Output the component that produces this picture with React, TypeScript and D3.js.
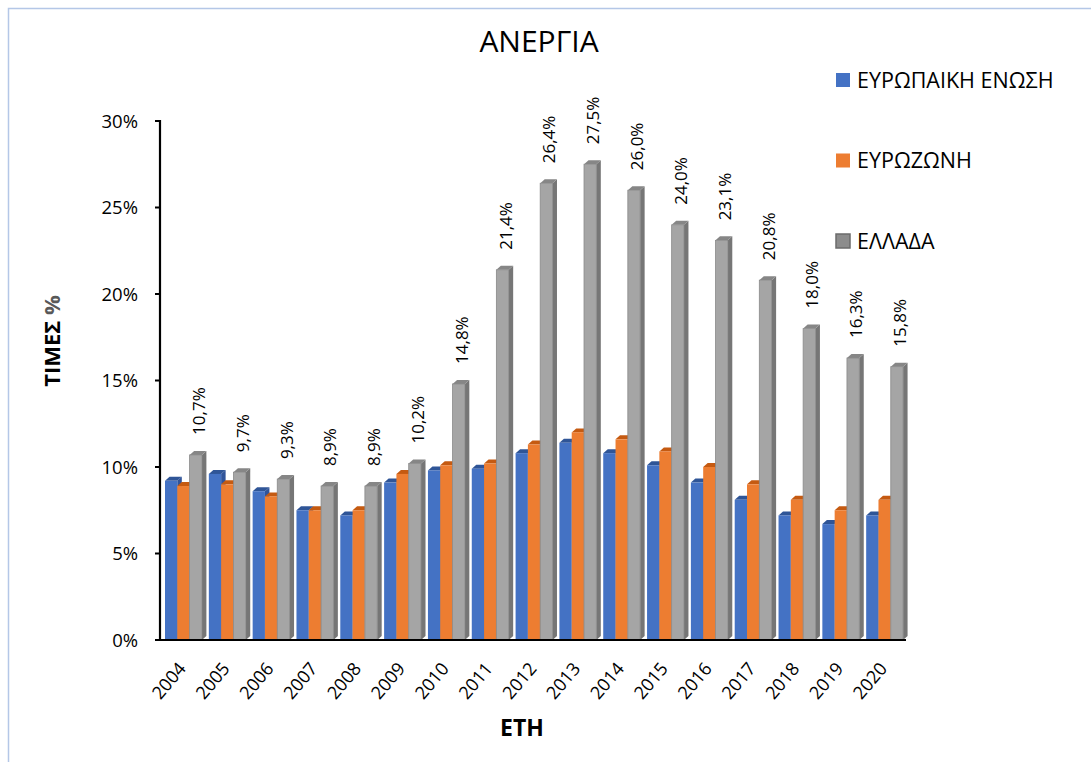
import React from 'react';
import * as d3 from 'd3';

const years = ['2004','2005','2006','2007','2008','2009','2010','2011','2012','2013','2014','2015','2016','2017','2018','2019','2020'];
const euValues = [9.2, 9.6, 8.6, 7.5, 7.2, 9.1, 9.8, 9.9, 10.8, 11.4, 10.8, 10.1, 9.1, 8.1, 7.2, 6.7, 7.2];
const euroValues = [8.9, 9.0, 8.3, 7.5, 7.5, 9.6, 10.1, 10.2, 11.3, 12.0, 11.6, 10.9, 10.0, 9.0, 8.1, 7.5, 8.1];
const greeceValues = [10.7, 9.7, 9.3, 8.9, 8.9, 10.2, 14.8, 21.4, 26.4, 27.5, 26.0, 24.0, 23.1, 20.8, 18.0, 16.3, 15.8];
const seriesNames = ['ΕΥΡΩΠΑΙΚΗ ΕΝΩΣΗ', 'ΕΥΡΩΖΩΝΗ', 'ΕΛΛΑΔΑ'];
const yTicks = [0, 5, 10, 15, 20, 25, 30];

const palette = [
  { front: '#4472c4', top: '#2f5597', side: '#30549a' },
  { front: '#ed7d31', top: '#c55a11', side: '#b8621f' },
  { front: '#a5a5a5', top: '#868686', side: '#767676' },
];

const FONT = "'Open Sans', 'Noto Sans', sans-serif";

export default function App() {
  const W = 1091, H = 762;
  const x = d3.scaleBand<string>().domain(years).range([162, 907]).paddingInner(0).paddingOuter(0);
  const inner = d3.scaleBand<number>().domain([0, 1, 2]).range([3, 3 + 12.3 * 3]).padding(0);
  const y = d3.scaleLinear().domain([0, 30]).range([640, 121]);
  const series = [euValues, euroValues, greeceValues];
  const dx = 4.5, dz = 4;
  const fmt = (v: number) => v.toFixed(1).replace('.', ',') + '%';

  const bars: React.ReactNode[] = [];
  years.forEach((yr, i) => {
    series.forEach((vals, s) => {
      const v = vals[i];
      const x0 = (x(yr) as number) + (inner(s) as number);
      const w = inner.bandwidth();
      const yt = y(v);
      const yb = y(0);
      const c = palette[s];
      bars.push(
        <g key={`${yr}-${s}`}>
          <polygon points={`${x0 + w},${yt} ${x0 + w + dx},${yt - dz} ${x0 + w + dx},${yb - dz} ${x0 + w},${yb}`} fill={c.side} />
          <polygon points={`${x0},${yt} ${x0 + dx},${yt - dz} ${x0 + w + dx},${yt - dz} ${x0 + w},${yt}`} fill={c.top} />
          <rect x={x0} y={yt} width={w} height={yb - yt} fill={c.front} stroke={s === 2 ? '#8a8a8a' : 'none'} strokeWidth={s === 2 ? 0.8 : 0} />
        </g>
      );
    });
  });

  return (
    <svg width={W} height={H} style={{ position: 'absolute', left: 0, top: 0, background: '#fff' }} fontFamily={FONT}>
      <rect x={8.5} y={8.5} width={1200} height={900} fill="#fff" stroke="#b4c7e7" strokeWidth={1.5} />
      <text x={539} y={52} textAnchor="middle" fontSize={30} fill="#000">ΑΝΕΡΓΙΑ</text>

      {/* y axis */}
      {yTicks.map(t => (
        <g key={t}>
          <line x1={155} x2={160} y1={y(t)} y2={y(t)} stroke="#000" strokeWidth={2} />
          <text x={138} y={y(t)} dy="0.36em" textAnchor="end" fontSize={18.5} fill="#000">{t}%</text>
        </g>
      ))}

      {bars}

      <line x1={160} x2={160} y1={120} y2={641} stroke="#000" strokeWidth={2.2} />
      <line x1={155} x2={906} y1={640} y2={640} stroke="#000" strokeWidth={2.2} />

      {/* data labels */}
      {years.map((yr, i) => {
        const gx = (x(yr) as number) + (inner(2) as number) + inner.bandwidth() / 2 + 3;
        const ty = y(greeceValues[i]) - 20;
        return (
          <text key={yr} transform={`translate(${gx},${ty}) rotate(-90)`} dy="0.36em" textAnchor="start" fontSize={17} fill="#000">{fmt(greeceValues[i])}</text>
        );
      })}

      {/* x tick labels */}
      {years.map(yr => {
        const cx = (x(yr) as number) + x.bandwidth() / 2;
        return (
          <text key={yr} transform={`translate(${cx + 3},${669}) rotate(-50)`} textAnchor="end" fontSize={18} fill="#000">{yr}</text>
        );
      })}

      <text x={522} y={736} textAnchor="middle" fontSize={23} fontWeight="bold" fill="#000">ΕΤΗ</text>
      <text transform={`translate(60,341) rotate(-90)`} textAnchor="middle" fontSize={22} fontWeight="bold" fill="#000">ΤΙΜΕΣ <tspan fill="#595959">%</tspan></text>

      {/* legend */}
      {seriesNames.map((n, s) => {
        const cy = 80 + s * 80.5;
        return (
          <g key={n}>
            <rect x={836} y={cy - 7} width={14} height={14} fill={s === 2 ? '#8c8c8c' : palette[s].front} stroke={s === 2 ? '#6b6b6b' : 'none'} strokeWidth={s === 2 ? 1.5 : 0} />
            <text x={857} y={cy} dy="0.36em" fontSize={21.5} fill="#000">{n}</text>
          </g>
        );
      })}
    </svg>
  );
}
